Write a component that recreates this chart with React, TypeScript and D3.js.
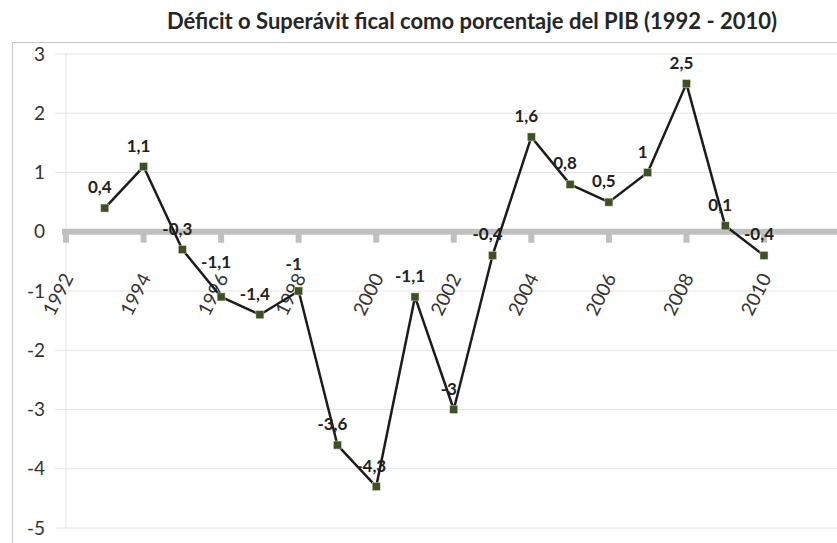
import React, { useEffect, useRef } from 'react';
import * as d3 from 'd3';

const years = [1993, 1994, 1995, 1996, 1997, 1998, 1999, 2000, 2001, 2002, 2003, 2004, 2005, 2006, 2007, 2008, 2009, 2010];
const values = [0.4, 1.1, -0.3, -1.1, -1.4, -1, -3.6, -4.3, -1.1, -3, -0.4, 1.6, 0.8, 0.5, 1, 2.5, 0.1, -0.4];
const yTicks = [3, 2, 1, 0, -1, -2, -3, -4, -5];
const xTicks = [1992, 1994, 1996, 1998, 2000, 2002, 2004, 2006, 2008, 2010];

const title = 'Déficit o Superávit fical como porcentaje del PIB (1992 - 2010)';

// a couple of labels were dragged higher in the original
const labelLift: Record<number, number> = { 1996: 14, 1998: 6 };

const App = () => {
  const svgRef = useRef<SVGSVGElement>(null);

  useEffect(() => {
    const svg = d3.select(svgRef.current);
    svg.selectAll('*').remove();

    const width = 837;
    const height = 543;
    const font = 'Lato, "Open Sans", sans-serif';

    const x = d3.scaleLinear().domain([1992, 2010]).range([66, 764]);
    const y = d3.scaleLinear().domain([-5, 3]).range([528, 54]);

    svg.attr('width', width).attr('height', height).style('background', '#fff');

    // frame
    svg.append('rect')
      .attr('x', 12.5).attr('y', 42.5)
      .attr('width', 900).attr('height', 600)
      .attr('fill', 'none')
      .attr('stroke', '#c8c8c8');

    svg.append('text')
      .attr('x', 472).attr('y', 29)
      .attr('text-anchor', 'middle')
      .attr('font-family', font)
      .attr('font-weight', 'bold')
      .attr('font-size', 22)
      .attr('fill', '#262626')
      .text(title);

    // horizontal gridlines
    svg.append('g')
      .selectAll('line')
      .data(yTicks.filter(d => d !== 0))
      .join('line')
      .attr('x1', 55).attr('x2', width)
      .attr('y1', d => y(d)).attr('y2', d => y(d))
      .attr('stroke', '#e4e4e4')
      .attr('stroke-width', 1);

    // vertical axis line
    svg.append('line')
      .attr('x1', x(1992)).attr('x2', x(1992))
      .attr('y1', y(3)).attr('y2', y(-5))
      .attr('stroke', '#e4e4e4');

    // y tick labels
    svg.append('g')
      .selectAll('text')
      .data(yTicks)
      .join('text')
      .attr('x', 45)
      .attr('y', d => y(d))
      .attr('dy', '0.35em')
      .attr('text-anchor', 'end')
      .attr('font-family', font)
      .attr('font-size', 19)
      .attr('fill', '#333')
      .text(d => d);

    // zero axis with tick marks
    svg.append('g')
      .selectAll('rect')
      .data(xTicks)
      .join('rect')
      .attr('x', d => x(d) - 3)
      .attr('y', y(0))
      .attr('width', 6)
      .attr('height', 11)
      .attr('fill', '#c0c0c0');

    svg.append('line')
      .attr('x1', 62).attr('x2', width)
      .attr('y1', y(0)).attr('y2', y(0))
      .attr('stroke', '#c0c0c0')
      .attr('stroke-width', 6);

    // x tick labels, rotated
    svg.append('g')
      .selectAll('text')
      .data(xTicks)
      .join('text')
      .attr('transform', d => `translate(${x(d) + 2},${y(0) + 43}) rotate(-63)`)
      .attr('dy', '0.35em')
      .attr('text-anchor', 'end')
      .attr('font-family', font)
      .attr('font-size', 19)
      .attr('fill', '#333')
      .text(d => d);

    const pts = years.map((yr, i) => ({ yr, v: values[i] }));

    const line = d3.line<{ yr: number; v: number }>()
      .x(d => x(d.yr))
      .y(d => y(d.v));

    svg.append('path')
      .datum(pts)
      .attr('d', line)
      .attr('fill', 'none')
      .attr('stroke', '#1c1c1c')
      .attr('stroke-width', 2.5)
      .attr('stroke-linejoin', 'round');

    svg.append('g')
      .selectAll('rect')
      .data(pts)
      .join('rect')
      .attr('x', d => x(d.yr) - 4)
      .attr('y', d => y(d.v) - 4)
      .attr('width', 8)
      .attr('height', 8)
      .attr('fill', '#3b5229')
      .attr('stroke', '#e8d8c0')
      .attr('stroke-width', 0.5);

    // data labels
    svg.append('g')
      .selectAll('text')
      .data(pts)
      .join('text')
      .attr('x', d => x(d.yr) - 5)
      .attr('y', d => y(d.v) - 15 - (labelLift[d.yr] || 0))
      .attr('text-anchor', 'middle')
      .attr('font-family', font)
      .attr('font-weight', 'bold')
      .attr('font-size', 17)
      .attr('fill', '#222')
      .text(d => String(d.v).replace('.', ','));
  }, []);

  return <svg ref={svgRef} style={{ position: 'absolute', left: 0, top: 0 }}></svg>;
};

export default App;
